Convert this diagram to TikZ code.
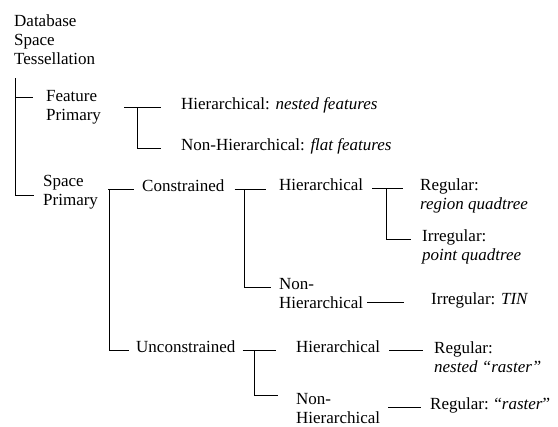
\documentclass[tikz,border=0pt]{standalone}
\usepackage{fontspec}
\setmainfont{Liberation Serif}
\usepackage{tikz}
\usetikzlibrary{calc}

\begin{document}
\begin{tikzpicture}[x=1pt,y=-1pt,
        tx/.style={anchor=base west,align=left,inner sep=1pt,font=\fontsize{17}{19}\selectfont},
        link/.style={draw=black,line width=.8pt}]
        \useasboundingbox (0,0) rectangle (558,427);
        % labels (base = last line)
        \node[tx] (db) at (13,65) {Database\\Space\\Tessellation};
        \node[tx] (fp) at (45,121) {Feature\\Primary};
        \node[tx] (fh) at (180,110) {Hierarchical: \textit{nested features}};
        \node[tx] (fn) at (180,151) {Non-Hierarchical: \textit{flat features}};
        \node[tx] (sp) at (42,206) {Space\\Primary};
        \node[tx] (con) at (141,192) {Constrained};
        \node[tx] (ch) at (278,191) {Hierarchical};
        \node[tx] (chr) at (419,210) {Regular:\\\textit{region quadtree}};
        \node[tx] (chi) at (421,261) {Irregular:\\\textit{point quadtree}};
        \node[tx] (cn) at (278,309) {Non-\\Hierarchical};
        \node[tx] (cnt) at (430,305) {Irregular: \textit{TIN}};
        \node[tx] (unc) at (135,353) {Unconstrained};
        \node[tx] (uh) at (295,353) {Hierarchical};
        \node[tx] (uhr) at (433,373) {Regular:\\\textit{nested “raster”}};
        \node[tx] (un) at (295,424) {Non-\\Hierarchical};
        \node[tx] (unr) at (429,410) {Regular: “\textit{raster}”};
        % trunk
        \coordinate (tk) at ([xshift=2pt,yshift=-12pt]db.south west);
        \draw[link] (tk) |- ([xshift=-12pt,yshift=24pt]fp.base west);
        \draw[link] (tk) |- ([xshift=-8pt,yshift=11pt]sp.base west);
        % feature primary
        \draw[link] ([xshift=22pt]fp.east |- fh.mid west) -- ([xshift=-19pt]fh.mid west);
        \draw[link] ([xshift=-43pt]fh.mid west) |- ([xshift=-19pt]fn.mid west);
        % space primary
        \draw[link] ([xshift=9pt]sp.east |- con.mid west) -- ([xshift=-7pt]con.mid west);
        \draw[link] ([xshift=-32pt]con.mid west) |- ([xshift=-6pt]unc.mid west);
        \draw[link] ([xshift=9pt]con.mid east) -- ([xshift=-12pt]ch.mid west |- con.mid east);
        \draw[link] ([xshift=-34pt]ch.mid west |- con.mid east) |- ([xshift=-7pt,yshift=19pt]cn.mid west);
        \draw[link] ([xshift=8pt]ch.mid east) -- ([xshift=-16pt]chr.mid west |- ch.mid east);
        \draw[link] ([xshift=-33pt]chr.mid west |- ch.mid east) |- ([xshift=-10pt,yshift=19pt]chi.mid west);
        \draw[link] ([xshift=3pt]cn.east |- cnt.mid west) -- ([xshift=-26pt]cnt.mid west);
        \draw[link] ([xshift=6pt]unc.mid east) -- ([xshift=-19pt]uh.mid west |- unc.mid east);
        \draw[link] ([xshift=-41pt]uh.mid west |- unc.mid east) |- ([xshift=-17pt,yshift=29pt]un.base west);
        \draw[link] ([xshift=8pt]uh.mid east) -- ([xshift=-10pt]uhr.mid west |- uh.mid east);
        \draw[link] ([xshift=7pt]un.east |- unr.mid west) -- ([xshift=-8pt]unr.mid west);
\end{tikzpicture}
\end{document}
